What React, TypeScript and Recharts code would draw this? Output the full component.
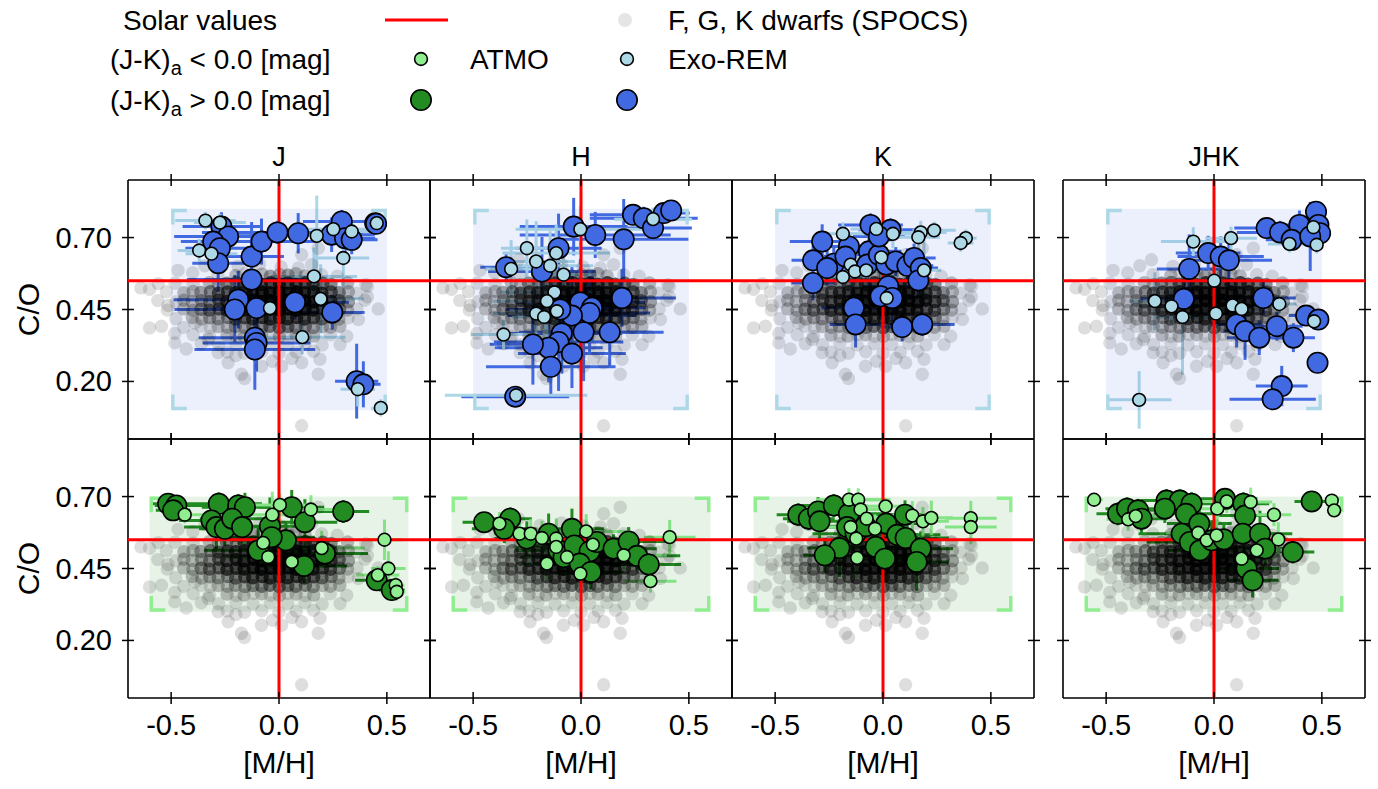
import React from "react";
import { ScatterChart, Scatter, XAxis, YAxis, ErrorBar } from "recharts";

// [M/H], C/O, err [M/H], err C/O
type Pt = [number, number, number, number];

const bands = ["J", "H", "K", "JHK"];
const mhTicks = [-0.5, 0, 0.5];
const coTicks = [0.2, 0.45, 0.7];
const solar = { mh: 0, co: 0.55 };
const exoremGrid = { mh: [-0.5, 0.5], co: [0.1, 0.8] };
const atmoGrid = { mh: [-0.6, 0.6], co: [0.3, 0.7] };

// SPOCS F, G, K dwarfs: [M/H], C/O, number of stars at that spot
const spocs: [number, number, number][] = [
  // sparse outskirts
  [-0.64, 0.525, 1], [-0.6, 0.52, 1], [-0.56, 0.54, 1], [-0.6, 0.386, 1], [-0.545, 0.392, 1],
  [-0.514, 0.464, 1], [-0.483, 0.367, 1], [-0.483, 0.334, 1], [-0.43, 0.313, 1], [-0.468, 0.586, 1],
  [-0.344, 0.602, 1], [0.46, 0.452, 1], [0.41, 0.53, 1], [0.41, 0.494, 1], [0.368, 0.415, 1],
  [0.314, 0.357, 1], [0.283, 0.328, 1], [0.19, 0.277, 1], [0.182, 0.225, 1], [0.105, 0.046, 1],
  [-0.174, 0.225, 1], [-0.236, 0.265, 1], [-0.081, 0.253, 1], [0.012, 0.253, 1], [0.105, 0.265, 1],
  [-0.282, 0.3, 1], [-0.328, 0.346, 1], [-0.39, 0.403, 1], [0.182, 0.663, 1], [0.105, 0.64, 1],
  [0.151, 0.606, 1], [-0.29, 0.623, 1], [-0.16, 0.21, 1], [0.06, 0.28, 1], [-0.03, 0.27, 1],
  [-0.2, 0.29, 1], [-0.19, 0.6, 1], [-0.09, 0.608, 1], [0.01, 0.598, 1], [0.09, 0.594, 1],
  [-0.4, 0.578, 1],
  // C/O ~ 0.57
  [-0.283, 0.571, 1], [-0.2, 0.568, 2], [-0.158, 0.574, 1], [-0.122, 0.567, 3], [-0.079, 0.573, 2],
  [-0.04, 0.566, 3], [0.003, 0.572, 2], [0.042, 0.569, 3], [0.078, 0.574, 2], [0.121, 0.567, 2],
  [0.198, 0.571, 1], [0.27, 0.566, 1],
  // C/O ~ 0.54
  [-0.482, 0.541, 1], [-0.398, 0.538, 1], [-0.323, 0.543, 2], [-0.281, 0.537, 2], [-0.243, 0.541, 4],
  [-0.198, 0.544, 4], [-0.161, 0.538, 6], [-0.119, 0.542, 7], [-0.082, 0.537, 8], [-0.038, 0.543, 9],
  [0.002, 0.539, 9], [0.041, 0.542, 9], [0.079, 0.537, 9], [0.122, 0.543, 8], [0.158, 0.538, 7],
  [0.203, 0.541, 5], [0.241, 0.537, 4], [0.318, 0.542, 2], [0.402, 0.536, 1],
  // C/O ~ 0.51
  [-0.522, 0.512, 1], [-0.441, 0.508, 2], [-0.398, 0.513, 2], [-0.362, 0.509, 3], [-0.318, 0.512, 4],
  [-0.281, 0.507, 6], [-0.238, 0.511, 7], [-0.202, 0.508, 9], [-0.159, 0.512, 10], [-0.121, 0.507, 12],
  [-0.078, 0.511, 14], [-0.042, 0.508, 15], [0.001, 0.512, 15], [0.039, 0.507, 15], [0.082, 0.511, 14],
  [0.118, 0.508, 13], [0.161, 0.512, 11], [0.199, 0.507, 9], [0.242, 0.511, 6], [0.279, 0.508, 4],
  [0.322, 0.512, 2], [0.358, 0.507, 1],
  // C/O ~ 0.48
  [-0.562, 0.481, 1], [-0.478, 0.477, 1], [-0.441, 0.482, 2], [-0.402, 0.478, 2], [-0.359, 0.481, 3],
  [-0.321, 0.477, 4], [-0.279, 0.482, 6], [-0.242, 0.478, 8], [-0.199, 0.481, 10], [-0.162, 0.477, 12],
  [-0.118, 0.482, 14], [-0.081, 0.478, 16], [-0.039, 0.481, 17], [0.002, 0.477, 18], [0.038, 0.482, 18],
  [0.081, 0.478, 18], [0.119, 0.481, 16], [0.162, 0.477, 14], [0.198, 0.482, 11], [0.241, 0.478, 8],
  [0.279, 0.481, 5], [0.322, 0.477, 3], [0.398, 0.482, 1],
  // C/O ~ 0.45
  [-0.518, 0.448, 1], [-0.442, 0.452, 2], [-0.399, 0.447, 2], [-0.361, 0.451, 4], [-0.322, 0.448, 5],
  [-0.278, 0.452, 6], [-0.241, 0.447, 8], [-0.198, 0.451, 9], [-0.162, 0.448, 11], [-0.119, 0.452, 13],
  [-0.082, 0.447, 14], [-0.038, 0.451, 15], [0.001, 0.448, 15], [0.042, 0.452, 15], [0.079, 0.447, 14],
  [0.121, 0.451, 13], [0.158, 0.448, 11], [0.202, 0.452, 8], [0.239, 0.447, 6], [0.281, 0.451, 4],
  [0.318, 0.448, 2], [0.362, 0.452, 1],
  // C/O ~ 0.42
  [-0.479, 0.418, 1], [-0.402, 0.422, 2], [-0.358, 0.417, 2], [-0.321, 0.421, 3], [-0.282, 0.418, 3],
  [-0.238, 0.422, 4], [-0.201, 0.417, 5], [-0.159, 0.421, 7], [-0.122, 0.418, 8], [-0.078, 0.422, 9],
  [-0.041, 0.417, 9], [0.002, 0.421, 9], [0.039, 0.418, 9], [0.082, 0.422, 9], [0.118, 0.417, 8],
  [0.161, 0.421, 7], [0.199, 0.418, 5], [0.242, 0.422, 4], [0.278, 0.417, 2], [0.321, 0.421, 1],
  // C/O ~ 0.39
  [-0.442, 0.388, 1], [-0.361, 0.392, 1], [-0.318, 0.387, 1], [-0.282, 0.391, 2], [-0.239, 0.388, 2],
  [-0.202, 0.392, 3], [-0.158, 0.387, 3], [-0.121, 0.391, 4], [-0.079, 0.388, 4], [-0.042, 0.392, 5],
  [0.001, 0.387, 5], [0.041, 0.391, 5], [0.078, 0.388, 4], [0.122, 0.392, 4], [0.159, 0.387, 3],
  [0.201, 0.391, 2], [0.238, 0.388, 2], [0.282, 0.392, 2],
  // C/O ~ 0.36
  [-0.398, 0.362, 1], [-0.322, 0.357, 1], [-0.241, 0.361, 2], [-0.199, 0.356, 1], [-0.162, 0.358, 2],
  [-0.118, 0.363, 1], [-0.081, 0.362, 2], [-0.039, 0.357, 1], [0.002, 0.357, 2], [0.041, 0.363, 1],
  [0.079, 0.361, 2], [0.122, 0.356, 1], [0.161, 0.358, 2], [0.238, 0.362, 1],
  // C/O ~ 0.33 and 0.30
  [-0.36, 0.331, 1], [-0.28, 0.328, 1], [-0.2, 0.332, 1], [-0.12, 0.327, 1], [-0.04, 0.331, 1],
  [0.04, 0.328, 1], [0.12, 0.332, 1], [0.2, 0.327, 1],
  [-0.24, 0.302, 1], [-0.16, 0.298, 1], [-0.08, 0.303, 1], [0.0, 0.298, 1], [0.08, 0.302, 1],
  [0.16, 0.305, 1],
];

// Exo-REM retrievals, (J-K)a > 0 (hi) and < 0 (lo)
const exoJ_hi: Pt[] = [
  [-0.267, 0.738, 0.18, 0.05], [-0.236, 0.704, 0.25, 0.06], [-0.305, 0.686, 0.15, 0.05],
  [-0.274, 0.663, 0.16, 0.08], [-0.282, 0.611, 0.12, 0.1], [-0.127, 0.634, 0.15, 0.12],
  [-0.081, 0.686, 0.25, 0.08], [-0.007, 0.718, 0.35, 0.04], [0.089, 0.715, 0.3, 0.07],
  [0.291, 0.756, 0.18, 0.04], [0.244, 0.71, 0.2, 0.06], [0.306, 0.698, 0.14, 0.05],
  [0.337, 0.692, 0.12, 0.05], [0.446, 0.75, 0.05, 0.03], [0.45, 0.748, 0.04, 0.03],
  [-0.127, 0.554, 0.3, 0.12], [-0.189, 0.484, 0.3, 0.1], [-0.205, 0.45, 0.28, 0.12],
  [-0.104, 0.455, 0.2, 0.1], [0.074, 0.475, 0.25, 0.06], [0.247, 0.44, 0.15, 0.06],
  [-0.112, 0.352, 0.26, 0.08], [-0.104, 0.334, 0.25, 0.1], [-0.112, 0.311, 0.28, 0.14],
  [0.36, 0.201, 0.1, 0.13], [0.391, 0.19, 0.08, 0.08],
];
const exoJ_lo: Pt[] = [
  [-0.341, 0.759, 0.14, 0.03], [-0.274, 0.752, 0.12, 0.03], [-0.37, 0.655, 0.1, 0.04],
  [-0.313, 0.644, 0.12, 0.05], [0.175, 0.706, 0.12, 0.14], [0.252, 0.729, 0.15, 0.04],
  [0.337, 0.721, 0.12, 0.03], [0.453, 0.75, 0.03, 0.02], [0.298, 0.629, 0.12, 0.1],
  [0.162, 0.565, 0.2, 0.1], [0.193, 0.487, 0.2, 0.12], [-0.042, 0.455, 0.2, 0.05],
  [0.108, 0.354, 0.2, 0.06], [0.365, 0.173, 0.08, 0.06], [0.472, 0.108, 0.03, 0.03],
];
const exoH_hi: Pt[] = [
  [-0.347, 0.597, 0.12, 0.05], [-0.305, 0.147, 0.25, 0.03], [-0.104, 0.663, 0.2, 0.12],
  [-0.181, 0.582, 0.25, 0.12], [-0.034, 0.738, 0.25, 0.1], [0.066, 0.709, 0.35, 0.08],
  [0.198, 0.694, 0.3, 0.14], [0.241, 0.779, 0.2, 0.03], [0.291, 0.767, 0.25, 0.04],
  [0.334, 0.733, 0.18, 0.04], [0.384, 0.785, 0.12, 0.03], [0.418, 0.794, 0.06, 0.02],
  [0.19, 0.49, 0.25, 0.1], [-0.003, 0.475, 0.3, 0.15], [0.051, 0.456, 0.25, 0.12],
  [0.04, 0.438, 0.28, 0.14], [-0.042, 0.429, 0.3, 0.17], [-0.096, 0.45, 0.25, 0.14],
  [0.012, 0.371, 0.3, 0.17], [0.133, 0.371, 0.25, 0.12], [-0.089, 0.367, 0.28, 0.14],
  [-0.104, 0.337, 0.3, 0.17], [-0.15, 0.317, 0.25, 0.12], [-0.223, 0.329, 0.2, 0.14],
  [-0.042, 0.297, 0.25, 0.12], [-0.14, 0.251, 0.3, 0.1],
];
const exoH_lo: Pt[] = [
  [-0.251, 0.663, 0.12, 0.1], [-0.208, 0.617, 0.18, 0.14], [-0.143, 0.602, 0.2, 0.12],
  [-0.115, 0.646, 0.25, 0.1], [-0.081, 0.571, 0.15, 0.12], [-0.324, 0.591, 0.12, 0.1],
  [-0.003, 0.729, 0.3, 0.08], [0.334, 0.764, 0.18, 0.04], [-0.123, 0.51, 0.25, 0.12],
  [-0.158, 0.479, 0.25, 0.14], [-0.112, 0.444, 0.22, 0.14], [-0.208, 0.436, 0.2, 0.12],
  [-0.171, 0.424, 0.15, 0.12], [-0.359, 0.363, 0.15, 0.05], [-0.301, 0.152, 0.33, 0.03],
];
const exoK_hi: Pt[] = [
  [-0.282, 0.686, 0.15, 0.06], [-0.324, 0.621, 0.1, 0.05], [-0.228, 0.609, 0.12, 0.06],
  [-0.259, 0.594, 0.08, 0.06], [-0.158, 0.669, 0.15, 0.05], [-0.174, 0.634, 0.1, 0.06],
  [-0.065, 0.652, 0.15, 0.06], [-0.073, 0.606, 0.12, 0.08], [-0.019, 0.64, 0.14, 0.05],
  [0.015, 0.606, 0.12, 0.06], [0.059, 0.617, 0.15, 0.05], [0.113, 0.602, 0.12, 0.06],
  [0.144, 0.629, 0.1, 0.05], [0.175, 0.594, 0.08, 0.06], [0.164, 0.551, 0.1, 0.06],
  [-0.058, 0.744, 0.15, 0.04], [0.035, 0.727, 0.15, 0.04], [-0.019, 0.704, 0.12, 0.05],
  [-0.325, 0.542, 0.1, 0.06], [0.024, 0.531, 0.12, 0.06], [-0.011, 0.496, 0.15, 0.08],
  [0.043, 0.49, 0.12, 0.08], [-0.135, 0.456, 0.15, 0.06], [-0.127, 0.398, 0.12, 0.08],
  [0.089, 0.389, 0.1, 0.05], [0.182, 0.398, 0.15, 0.04],
];
const exoK_lo: Pt[] = [
  [-0.186, 0.713, 0.1, 0.04], [-0.031, 0.73, 0.12, 0.04], [0.046, 0.713, 0.15, 0.05],
  [0.175, 0.718, 0.12, 0.04], [0.164, 0.701, 0.1, 0.04], [0.237, 0.725, 0.1, 0.03],
  [0.384, 0.698, 0.05, 0.03], [0.36, 0.681, 0.06, 0.03], [-0.008, 0.631, 0.12, 0.1],
  [-0.15, 0.606, 0.1, 0.08], [-0.13, 0.582, 0.12, 0.1], [-0.078, 0.586, 0.1, 0.06],
  [-0.186, 0.563, 0.1, 0.05], [0.19, 0.586, 0.08, 0.12], [0.017, 0.49, 0.1, 0.12],
];
const exoJHK_hi: Pt[] = [
  [0.473, 0.79, 0.05, 0.03], [0.244, 0.733, 0.15, 0.03], [0.306, 0.718, 0.2, 0.04],
  [0.396, 0.744, 0.1, 0.05], [0.484, 0.744, 0.04, 0.04], [0.492, 0.715, 0.04, 0.04],
  [0.36, 0.692, 0.12, 0.03], [0.446, 0.704, 0.08, 0.12], [-0.027, 0.646, 0.15, 0.06],
  [0.031, 0.634, 0.2, 0.07], [0.069, 0.621, 0.2, 0.1], [-0.115, 0.591, 0.15, 0.12],
  [-0.14, 0.487, 0.2, 0.08], [0.229, 0.49, 0.15, 0.06], [0.427, 0.429, 0.08, 0.03],
  [0.484, 0.415, 0.04, 0.03], [0.105, 0.398, 0.12, 0.08], [0.144, 0.375, 0.1, 0.1],
  [0.291, 0.392, 0.12, 0.05], [0.21, 0.352, 0.15, 0.06], [0.368, 0.352, 0.1, 0.05],
  [0.48, 0.265, 0.03, 0.03], [0.314, 0.184, 0.12, 0.07], [0.272, 0.138, 0.2, 0.03],
];
const exoJHK_lo: Pt[] = [
  [-0.096, 0.686, 0.15, 0.05], [0.079, 0.698, 0.12, 0.04], [0.461, 0.736, 0.05, 0.03],
  [0.35, 0.678, 0.1, 0.03], [0.476, 0.675, 0.03, 0.03], [0.001, 0.55, 0.15, 0.08],
  [-0.274, 0.479, 0.12, 0.1], [-0.197, 0.461, 0.15, 0.06], [-0.146, 0.424, 0.12, 0.2],
  [0.009, 0.436, 0.15, 0.05], [0.086, 0.464, 0.15, 0.06], [0.128, 0.452, 0.1, 0.05],
  [0.303, 0.469, 0.08, 0.03], [0.464, 0.409, 0.04, 0.03], [-0.347, 0.136, 0.15, 0.1],
];

// ATMO retrievals
const atmoJ_hi: Pt[] = [
  [-0.514, 0.675, 0.08, 0.03], [-0.476, 0.669, 0.1, 0.03], [-0.491, 0.652, 0.08, 0.03],
  [-0.279, 0.675, 0.2, 0.04], [-0.189, 0.669, 0.25, 0.04], [-0.158, 0.663, 0.2, 0.05],
  [-0.313, 0.617, 0.15, 0.05], [-0.29, 0.594, 0.15, 0.08], [-0.251, 0.588, 0.12, 0.06],
  [-0.217, 0.623, 0.15, 0.05], [-0.171, 0.594, 0.15, 0.06], [-0.042, 0.597, 0.15, 0.1],
  [0.059, 0.663, 0.15, 0.06], [0.12, 0.611, 0.15, 0.08], [0.298, 0.648, 0.12, 0.04],
  [0.032, 0.548, 0.25, 0.06], [-0.096, 0.513, 0.25, 0.08], [-0.034, 0.559, 0.2, 0.06],
  [0.213, 0.502, 0.2, 0.05], [0.116, 0.459, 0.2, 0.06], [0.453, 0.409, 0.1, 0.03],
  [0.523, 0.375, 0.06, 0.03],
];
const atmoJ_lo: Pt[] = [
  [-0.437, 0.637, 0.1, 0.03], [0.004, 0.671, 0.12, 0.04], [-0.031, 0.637, 0.12, 0.08],
  [0.148, 0.655, 0.12, 0.05], [-0.073, 0.539, 0.12, 0.06], [-0.05, 0.49, 0.2, 0.06],
  [0.059, 0.473, 0.15, 0.04], [0.198, 0.521, 0.2, 0.06], [0.489, 0.55, 0.08, 0.07],
  [0.507, 0.45, 0.08, 0.06], [0.458, 0.427, 0.1, 0.03], [0.541, 0.392, 0.04, 0.03],
  [0.546, 0.369, 0.04, 0.03],
];
const atmoH_hi: Pt[] = [
  [-0.449, 0.611, 0.1, 0.03], [-0.328, 0.623, 0.1, 0.04], [-0.356, 0.588, 0.15, 0.05],
  [-0.251, 0.554, 0.15, 0.06], [-0.15, 0.571, 0.2, 0.07], [-0.104, 0.513, 0.2, 0.05],
  [-0.081, 0.49, 0.2, 0.06], [-0.042, 0.588, 0.15, 0.07], [-0.031, 0.53, 0.2, 0.06],
  [0.04, 0.51, 0.2, 0.06], [-0.006, 0.467, 0.2, 0.06], [0.046, 0.438, 0.15, 0.06],
  [0.074, 0.542, 0.2, 0.05], [0.151, 0.519, 0.2, 0.05], [0.221, 0.544, 0.2, 0.05],
  [0.26, 0.494, 0.2, 0.05], [0.314, 0.464, 0.15, 0.04],
];
const atmoH_lo: Pt[] = [
  [-0.378, 0.606, 0.1, 0.04], [-0.285, 0.571, 0.12, 0.06], [-0.233, 0.571, 0.15, 0.05],
  [-0.181, 0.556, 0.15, 0.06], [-0.115, 0.554, 0.2, 0.07], [-0.115, 0.525, 0.2, 0.08],
  [-0.065, 0.49, 0.2, 0.06], [-0.158, 0.467, 0.12, 0.06], [0.024, 0.579, 0.2, 0.06],
  [0.055, 0.533, 0.2, 0.06], [-0.003, 0.432, 0.12, 0.06], [0.198, 0.496, 0.2, 0.05],
  [0.411, 0.559, 0.12, 0.06], [0.322, 0.406, 0.12, 0.04],
];
const atmoK_hi: Pt[] = [
  [-0.393, 0.637, 0.1, 0.04], [-0.344, 0.623, 0.12, 0.04], [-0.301, 0.648, 0.12, 0.05],
  [-0.294, 0.614, 0.15, 0.06], [-0.228, 0.669, 0.15, 0.04], [-0.158, 0.64, 0.15, 0.05],
  [-0.166, 0.594, 0.15, 0.06], [-0.127, 0.571, 0.2, 0.06], [-0.081, 0.597, 0.2, 0.06],
  [0.015, 0.606, 0.2, 0.06], [-0.034, 0.525, 0.2, 0.07], [0.009, 0.484, 0.15, 0.08],
  [0.066, 0.567, 0.2, 0.06], [0.105, 0.556, 0.2, 0.06], [0.102, 0.637, 0.15, 0.05],
  [0.175, 0.519, 0.15, 0.06], [0.156, 0.473, 0.15, 0.1], [-0.202, 0.521, 0.15, 0.1],
  [-0.27, 0.496, 0.1, 0.06],
];
const atmoK_lo: Pt[] = [
  [-0.158, 0.689, 0.15, 0.04], [-0.115, 0.689, 0.15, 0.04], [-0.104, 0.655, 0.12, 0.05],
  [-0.076, 0.623, 0.12, 0.05], [-0.037, 0.588, 0.15, 0.05], [-0.15, 0.594, 0.12, 0.06],
  [-0.124, 0.554, 0.12, 0.06], [-0.12, 0.487, 0.1, 0.07], [0.012, 0.666, 0.12, 0.03],
  [0.136, 0.634, 0.12, 0.05], [0.185, 0.614, 0.12, 0.05], [0.224, 0.626, 0.1, 0.06],
  [0.407, 0.625, 0.12, 0.06], [0.407, 0.594, 0.12, 0.06],
];
const atmoJHK_hi: Pt[] = [
  [-0.445, 0.64, 0.1, 0.04], [-0.403, 0.658, 0.1, 0.04], [-0.352, 0.652, 0.1, 0.04],
  [-0.336, 0.623, 0.12, 0.05], [-0.22, 0.686, 0.12, 0.04], [-0.158, 0.686, 0.15, 0.04],
  [-0.104, 0.675, 0.15, 0.04], [-0.13, 0.64, 0.15, 0.05], [-0.228, 0.658, 0.12, 0.05],
  [-0.068, 0.606, 0.15, 0.06], [-0.15, 0.571, 0.2, 0.05], [-0.112, 0.542, 0.2, 0.06],
  [-0.065, 0.513, 0.15, 0.06], [-0.011, 0.548, 0.15, 0.07], [0.046, 0.551, 0.2, 0.06],
  [0.051, 0.692, 0.15, 0.03], [0.136, 0.675, 0.12, 0.04], [0.144, 0.634, 0.12, 0.05],
  [0.133, 0.571, 0.15, 0.06], [0.213, 0.571, 0.15, 0.08], [0.237, 0.519, 0.15, 0.06],
  [0.365, 0.507, 0.1, 0.04], [0.151, 0.45, 0.15, 0.06], [0.179, 0.409, 0.12, 0.06],
  [0.453, 0.683, 0.08, 0.02],
];
const atmoJHK_lo: Pt[] = [
  [-0.556, 0.689, 0.04, 0.02], [-0.398, 0.621, 0.1, 0.04], [-0.363, 0.632, 0.1, 0.04],
  [0.015, 0.658, 0.12, 0.05], [0.059, 0.683, 0.12, 0.04], [0.17, 0.681, 0.1, 0.05],
  [0.278, 0.637, 0.08, 0.04], [0.546, 0.686, 0.03, 0.02], [0.557, 0.652, 0.03, 0.02],
  [-0.073, 0.574, 0.15, 0.06], [-0.034, 0.548, 0.15, 0.06], [0.012, 0.565, 0.15, 0.06],
  [0.198, 0.513, 0.15, 0.06], [0.298, 0.551, 0.15, 0.06], [0.128, 0.484, 0.15, 0.08],
];

const exoHi = [exoJ_hi, exoH_hi, exoK_hi, exoJHK_hi];
const exoLo = [exoJ_lo, exoH_lo, exoK_lo, exoJHK_lo];
const atmoHi = [atmoJ_hi, atmoH_hi, atmoK_hi, atmoJHK_hi];
const atmoLo = [atmoJ_lo, atmoH_lo, atmoK_lo, atmoJHK_lo];

const FONT = "'Liberation Sans', Arial, Helvetica, sans-serif";
const PW = 302;
const PH = 259;
const L = 100;
const R = 20;
const T = 20;
const B = 50;
const colLeft = [128, 430, 732, 1063];
const rowTop = [180, 439];

const toPts = (a: Pt[]) => a.map(([x, y, ex, ey]) => ({ x, y, ex, ey }));
const spocsPts = spocs.map(([x, y, n]) => ({ x, y, n }));
const solarV = [{ x: solar.mh, y: 0 }, { x: solar.mh, y: 0.9 }];
const solarH = [{ x: -0.7, y: solar.co }, { x: 0.7, y: solar.co }];

const noShape = () => <g />;

const grayDot = (p: any) => (
  <circle cx={p.cx} cy={p.cy} r={6.7} fill="#000" fillOpacity={1 - Math.pow(0.87, p.payload.n)} />
);

const dot = (r: number, fill: string) => (p: any) => (
  <circle cx={p.cx} cy={p.cy} r={r} fill={fill} stroke="#000" strokeWidth={1.6} />
);

const gridBox = (fill: string, edge: string) => (lp: any) => {
  const [a, b] = lp.points;
  const x0 = Math.min(a.x, b.x);
  const x1 = Math.max(a.x, b.x);
  const y0 = Math.min(a.y, b.y);
  const y1 = Math.max(a.y, b.y);
  const k = 14;
  const o = 1.7;
  const d =
    `M${x0 + o + k},${y0 + o}H${x0 + o}V${y0 + o + k}` +
    `M${x1 - o - k},${y0 + o}H${x1 - o}V${y0 + o + k}` +
    `M${x0 + o},${y1 - o - k}V${y1 - o}H${x0 + o + k}` +
    `M${x1 - o},${y1 - o - k}V${y1 - o}H${x1 - o - k}`;
  return (
    <g>
      <rect x={x0} y={y0} width={x1 - x0} height={y1 - y0} fill={fill} fillOpacity={0.1} />
      <path d={d} stroke={edge} strokeWidth={3.4} fill="none" />
    </g>
  );
};

const fmtMH = (v: number) => v.toFixed(1);
const fmtCO = (v: number) => v.toFixed(2);

function Panel({ col, row }: { col: number; row: number }) {
  const exo = row === 0;
  const hi = toPts(exo ? exoHi[col] : atmoHi[col]);
  const lo = toPts(exo ? exoLo[col] : atmoLo[col]);
  const g = exo ? exoremGrid : atmoGrid;
  const dark = exo ? "#4169e1" : "#228b22";
  const light = exo ? "#add8e6" : "#90ee90";
  const box = [{ x: g.mh[0], y: g.co[0] }, { x: g.mh[1], y: g.co[1] }];
  const showX = row === 1;
  const showY = col === 0;

  const axisY0 = T;
  const axisY1 = T + PH;
  const axisX0 = L;
  const axisX1 = L + PW;
  const tl = { stroke: "#000", strokeWidth: 1.5 };

  const tickBottom = (p: any) => (
    <g>
      <line x1={p.x} x2={p.x} y1={axisY1 - 6} y2={axisY1 + 6} {...tl} />
      {showX && (
        <text x={p.x} y={axisY1 + 37} textAnchor="middle" fontSize={29} fontFamily={FONT} fill="#000">
          {fmtMH(p.payload.value)}
        </text>
      )}
    </g>
  );
  const tickTop = (p: any) => <line x1={p.x} x2={p.x} y1={axisY0 - 6} y2={axisY0 + 6} {...tl} />;
  const tickLeft = (p: any) => (
    <g>
      <line x1={axisX0 - 6} x2={axisX0 + 6} y1={p.y} y2={p.y} {...tl} />
      {showY && (
        <text x={axisX0 - 16} y={p.y + 10} textAnchor="end" fontSize={29} fontFamily={FONT} fill="#000">
          {fmtCO(p.payload.value)}
        </text>
      )}
    </g>
  );
  const tickRight = (p: any) => <line x1={axisX1 - 6} x2={axisX1 + 6} y1={p.y} y2={p.y} {...tl} />;

  const axisLine = { stroke: "#000", strokeWidth: 1.6 };

  return (
    <div style={{ position: "absolute", left: colLeft[col] - L, top: rowTop[row] - T }}>
      <ScatterChart width={PW + L + R} height={PH + T + B} margin={{ top: 0, right: 0, bottom: 0, left: 0 }}>
        <Scatter data={box} shape={noShape} line={gridBox(dark, light)} isAnimationActive={false} />
        <Scatter data={spocsPts} shape={grayDot} isAnimationActive={false} />
        <Scatter data={solarV} shape={noShape} line={{ stroke: "#ff0000", strokeWidth: 3 }} isAnimationActive={false} />
        <Scatter data={solarH} shape={noShape} line={{ stroke: "#ff0000", strokeWidth: 3 }} isAnimationActive={false} />
        <Scatter data={hi} shape={dot(10.2, dark)} isAnimationActive={false}>
          <ErrorBar dataKey="ex" direction="x" width={0} stroke={dark} strokeWidth={3} isAnimationActive={false} />
          <ErrorBar dataKey="ey" direction="y" width={0} stroke={dark} strokeWidth={3} isAnimationActive={false} />
        </Scatter>
        <Scatter data={lo} shape={dot(6.4, light)} isAnimationActive={false}>
          <ErrorBar dataKey="ex" direction="x" width={0} stroke={light} strokeWidth={3} isAnimationActive={false} />
          <ErrorBar dataKey="ey" direction="y" width={0} stroke={light} strokeWidth={3} isAnimationActive={false} />
        </Scatter>
        <XAxis
          type="number" dataKey="x" domain={[-0.7, 0.7]} allowDataOverflow ticks={mhTicks} interval={0}
          height={B} tickLine={false} tickSize={6} axisLine={axisLine} tick={tickBottom}
        />
        <XAxis
          xAxisId="top" orientation="top" type="number" dataKey="x" domain={[-0.7, 0.7]} allowDataOverflow
          ticks={mhTicks} interval={0} height={T} tickLine={false} tickSize={6} axisLine={axisLine} tick={tickTop}
        />
        <YAxis
          type="number" dataKey="y" domain={[0, 0.9]} allowDataOverflow ticks={coTicks} interval={0}
          width={L} tickLine={false} tickSize={6} axisLine={axisLine} tick={tickLeft}
        />
        <YAxis
          yAxisId="right" orientation="right" type="number" dataKey="y" domain={[0, 0.9]} allowDataOverflow
          ticks={coTicks} interval={0} width={R} tickLine={false} tickSize={6} axisLine={axisLine} tick={tickRight}
        />
      </ScatterChart>
    </div>
  );
}

function Overlay() {
  const ts = { fontFamily: FONT, fontSize: 28, fill: "#000" } as const;
  return (
    <svg width={1378} height={789} style={{ position: "absolute", left: 0, top: 0 }}>
      {/* legend */}
      <text x={123} y={30} {...ts}>Solar values</text>
      <line x1={385} x2={448} y1={20} y2={20} stroke="#ff0000" strokeWidth={3} />
      <circle cx={625} cy={20} r={7} fill="#000" fillOpacity={0.1} />
      <text x={668} y={30} {...ts}>F, G, K dwarfs (SPOCS)</text>
      <text x={110} y={69} {...ts}>
        (J-K)<tspan fontSize={20} dy={6}>a</tspan><tspan dy={-6}> &lt; 0.0 [mag]</tspan>
      </text>
      <circle cx={421} cy={59} r={6.4} fill="#90ee90" stroke="#000" strokeWidth={1.6} />
      <text x={470} y={69} {...ts}>ATMO</text>
      <circle cx={627} cy={59} r={6.4} fill="#add8e6" stroke="#000" strokeWidth={1.6} />
      <text x={668} y={69} {...ts}>Exo-REM</text>
      <text x={110} y={110} {...ts}>
        (J-K)<tspan fontSize={20} dy={6}>a</tspan><tspan dy={-6}> &gt; 0.0 [mag]</tspan>
      </text>
      <circle cx={421} cy={100} r={10.2} fill="#228b22" stroke="#000" strokeWidth={1.6} />
      <circle cx={627} cy={100} r={10.2} fill="#4169e1" stroke="#000" strokeWidth={1.6} />
      {/* panel titles and axis labels */}
      {bands.map((b, i) => (
        <text key={b} x={colLeft[i] + PW / 2} y={166} textAnchor="middle" {...ts} fontSize={27}>{b}</text>
      ))}
      {bands.map((b, i) => (
        <text key={"mh" + b} x={colLeft[i] + PW / 2} y={773} textAnchor="middle" {...ts} fontSize={30}>[M/H]</text>
      ))}
      {rowTop.map((t) => (
        <text key={t} x={39} y={t + PH / 2} textAnchor="middle" {...ts} fontSize={30}
          transform={`rotate(-90, 39, ${t + PH / 2})`}>C/O</text>
      ))}
    </svg>
  );
}

export default function App() {
  return (
    <div style={{ position: "absolute", left: 0, top: 0, width: 1378, height: 789, background: "#fff", fontFamily: FONT }}>
      <Overlay />
      {rowTop.map((_, r) => bands.map((_b, c) => <Panel key={`${r}-${c}`} col={c} row={r} />))}
    </div>
  );
}
